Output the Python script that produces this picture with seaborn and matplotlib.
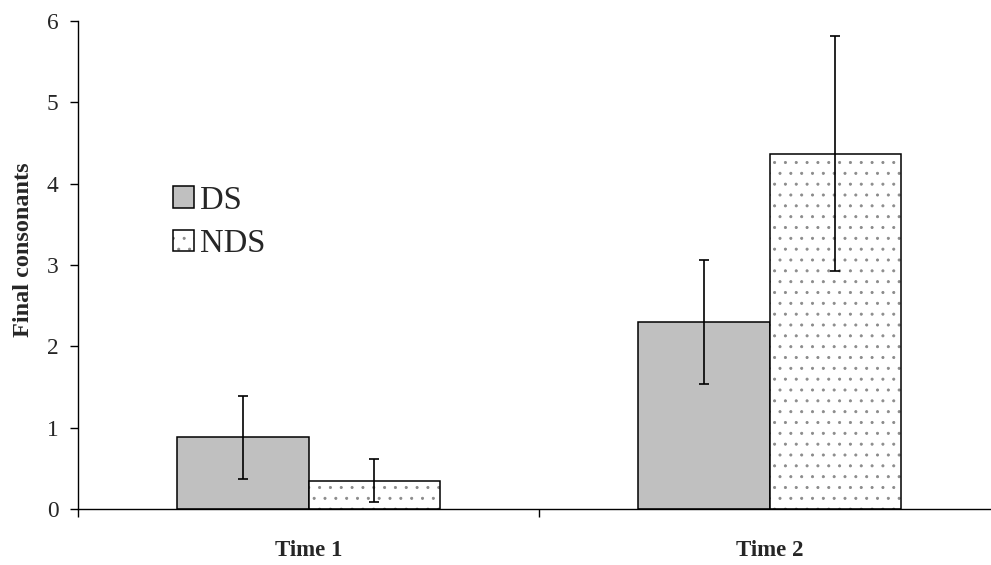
import matplotlib
matplotlib.use("Agg")
import matplotlib.pyplot as plt
import matplotlib.colors as mcolors
import seaborn as sns
import pandas as pd
import numpy as np
from matplotlib.ticker import FixedLocator

times = ["Time 1", "Time 2"]
groups = ["DS", "NDS"]
ds_means = [0.88, 2.30]
nds_means = [0.35, 4.37]
ds_err = [0.51, 0.76]
nds_err = [0.26, 1.44]

DPI = 130
k = 100.0 / DPI  # convert sizes designed for 100 dpi


def pt(v):
    return v * k


sns.set_style("white")
plt.rcParams['font.family'] = ['Liberation Serif', 'DejaVu Serif']
plt.rcParams['hatch.linewidth'] = pt(0.6)

df = pd.DataFrame({
    "time": times * 2,
    "group": ["DS"] * 2 + ["NDS"] * 2,
    "value": ds_means + nds_means,
})
errs = {"DS": ds_err, "NDS": nds_err}

HATCH_COLOR = mcolors.to_rgba("#8a8a8a")


def set_hatch_color(p):
    if hasattr(p, "set_hatchcolor"):
        try:
            p.set_hatchcolor(HATCH_COLOR)
            return
        except Exception:
            pass
    p._hatch_color = HATCH_COLOR


fig = plt.figure(figsize=(991 / DPI, 565 / DPI), dpi=DPI)
ax = fig.add_axes([78/991, 1 - 509/565, 922/991, (509 - 21)/565])

sns.barplot(data=df, x="time", y="value", hue="group", order=times, hue_order=groups,
            palette={"DS": "#c0c0c0", "NDS": "white"}, errorbar=None, width=0.572,
            edgecolor="black", linewidth=pt(1.1), ax=ax, legend=True)

for container, g in zip(ax.containers, groups):
    xs = []
    hs = []
    for p in container.patches:
        xs.append(p.get_x() + p.get_width() / 2)
        hs.append(p.get_height())
        if g == "NDS":
            p.set_hatch("..")
            set_hatch_color(p)
    ax.errorbar(xs, hs, yerr=errs[g], fmt="none", ecolor="black", elinewidth=pt(1.2),
                capsize=pt(3.3), capthick=pt(1.2), zorder=5)

ax.set_xlim(-0.5, 1.5)
ax.set_ylim(0, 6)
ax.set_yticks([0, 1, 2, 3, 4, 5, 6])
ax.set_xticks([0, 1])
ax.set_xticklabels(times, fontweight="bold", fontsize=pt(16.5))
ax.xaxis.set_minor_locator(FixedLocator([-0.5, 0.5, 1.5]))
ax.tick_params(axis="x", which="major", length=0, pad=pt(22.5))
ax.tick_params(axis="x", which="minor", length=pt(6), width=pt(1), color="black",
               direction="out", bottom=True)
ax.tick_params(axis="y", which="major", length=pt(6), width=pt(1), color="black",
               direction="out", labelsize=pt(16.8), pad=pt(8), left=True)
ax.set_xlabel("")
ax.set_ylabel("Final consonants", fontweight="bold", fontsize=pt(17.5), labelpad=pt(9))
ax.yaxis.label.set_y(0.531)
for s in ["top", "right"]:
    ax.spines[s].set_visible(False)
for s in ["left", "bottom"]:
    ax.spines[s].set_color("black")
    ax.spines[s].set_linewidth(pt(1))

leg = ax.legend(loc="upper left", bbox_to_anchor=(160/991, 1 - 172/565),
                bbox_transform=fig.transFigure, frameon=False, fontsize=pt(23.5),
                handlelength=0.63, handleheight=0.63, handletextpad=0.2, labelspacing=0.4,
                borderaxespad=0)
for h, g in zip(leg.legend_handles, groups):
    h.set_edgecolor("black")
    h.set_linewidth(pt(1.1))
    if g == "NDS":
        h.set_hatch("..")
        set_hatch_color(h)

fig.savefig("out.png", dpi=DPI)
